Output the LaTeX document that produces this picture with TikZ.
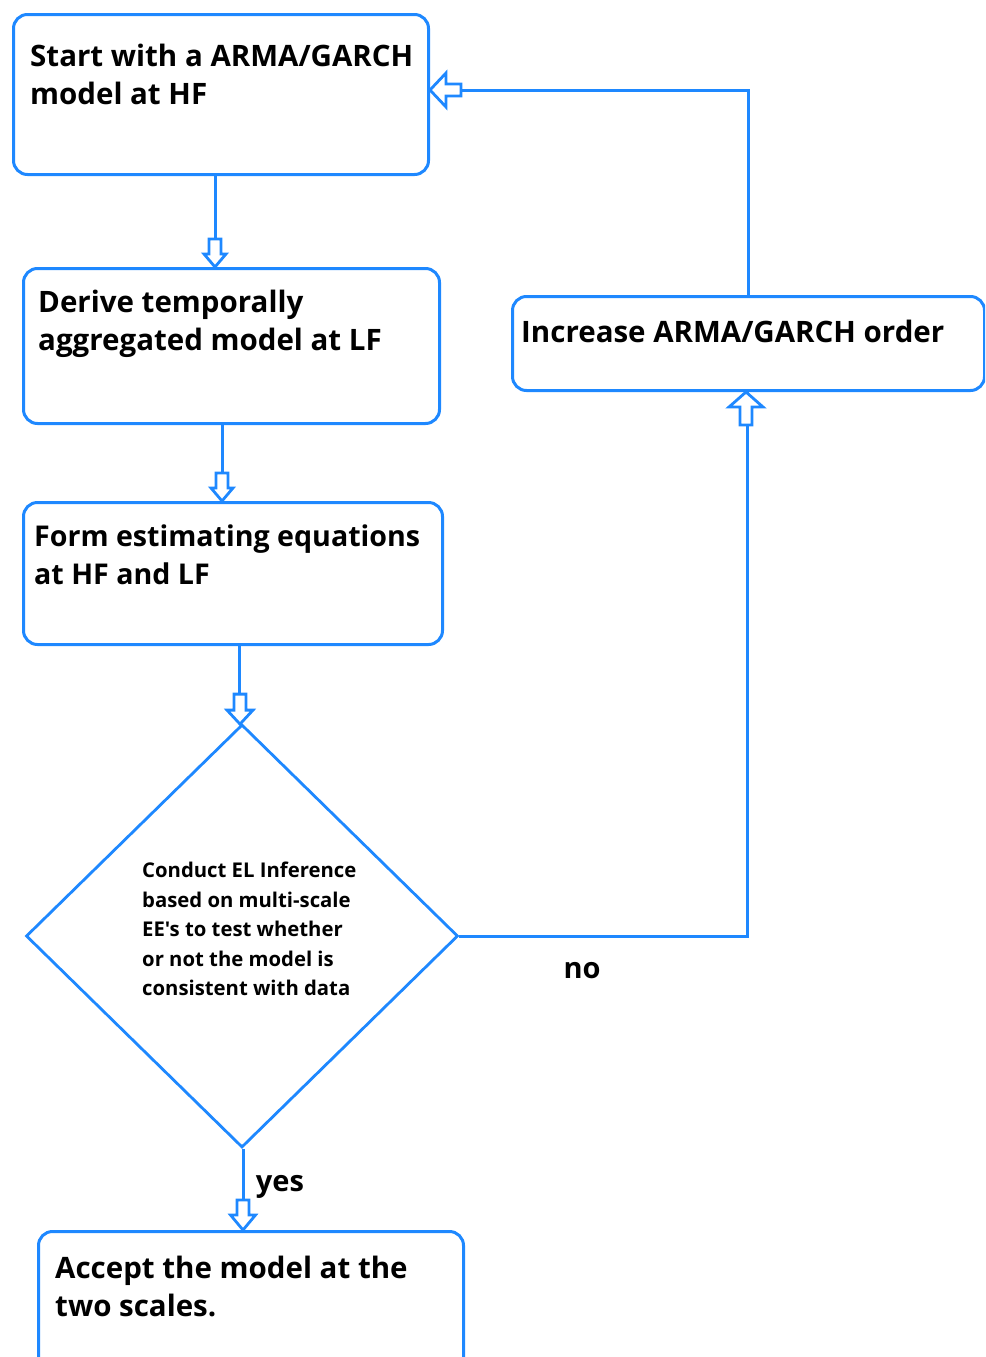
\documentclass[tikz,border=0pt]{standalone}
\usepackage{fontspec}
\newfontfamily\osf{Open Sans}
\usetikzlibrary{shapes.geometric}
\definecolor{fblue}{RGB}{30,136,255}
\tikzset{
  box/.style={draw=fblue, line width=3pt, rounded corners=14pt, inner sep=0pt, anchor=north west},
  btext/.style={anchor=north west, inner sep=0pt, align=left, font=\osf\fontsize{29.5}{38}\selectfont\bfseries},
  dtext/.style={anchor=north west, inner sep=0pt, align=left, font=\osf\fontsize{20.3}{29.5}\selectfont\bfseries},
  lbl/.style={inner sep=0pt, font=\osf\fontsize{29}{32}\selectfont\bfseries},
  conn/.style={draw=fblue, line width=3pt},
  arrowhead/.style={draw=fblue, fill=white, line width=2.8pt, line join=miter},
  pics/barrow/.style n args={3}{code={
    \draw[arrowhead] (0,0) -- (-#2,#1) -- (-#2,6) -- (-#3,6) -- (-#3,-6) -- (-#2,-6) -- (-#2,-#1) -- cycle;}},
}
\begin{document}
\begin{tikzpicture}[x=1pt,y=-1pt]
\useasboundingbox (0,0) rectangle (985,1357);
\clip (0,0) rectangle (985,1357);
% boxes
\node[box, minimum width=415pt, minimum height=160pt] (b1) at (12,13) {};
\node[box, minimum width=416pt, minimum height=155pt] (b2) at (22,267) {};
\node[box, minimum width=419pt, minimum height=142pt] (b3) at (22,501) {};
\node[box, minimum width=472pt, minimum height=94pt] (b4) at (511,295) {};
\node[box, minimum width=425pt, minimum height=150pt] (b5) at (37,1230) {};
\node[diamond, draw=fblue, line width=2.8pt, minimum width=432pt, minimum height=423pt, inner sep=0pt] (dm) at (242,936) {};
% texts
\node[btext] (t1) at (30,44) {Start with a ARMA/GARCH\\model at HF};
\node[btext] (t2) at (38,290) {Derive temporally\\aggregated model at LF};
\node[btext, font=\osf\fontsize{28.6}{38}\selectfont\bfseries] (t3) at (34,525) {Form estimating equations\\at HF and LF};
\node[btext] (t4) at (521,320) {Increase ARMA/GARCH order};
\node[btext] (t5) at (55,1256) {Accept the model at the\\two scales.};
\node[dtext] (td) at (142,862) {Conduct EL Inference\\based on multi-scale\\EE's to test whether\\or not the model is\\consistent with data};
\node[lbl] (no) at (582,971) {no};
\node[lbl] (yes) at (280,1187) {yes};
% connectors
\draw[conn] (b1.south -| 215,0) -- (b2.north -| 215,0);
\draw[conn] (b2.south -| 222,0) -- (b3.north -| 222,0);
\draw[conn] (b3.south -| 239,0) -- (dm.north -| 239,0);
\draw[conn] (dm.south -| 243,0) -- (b5.north -| 243,0);
\draw[conn] (dm.east) -- (dm.east -| 747,0) -- (b4.south -| 747,0);
\draw[conn] (b4.north -| 748,0) -- (748,90) -- (b1.east |- 0,90);
% arrow heads
\pic[rotate=-90] (h1) at (b2.north -| 215,0) {barrow={11}{13}{28}};
\pic[rotate=-90] (h2) at (b3.north -| 222,0) {barrow={11}{13}{28}};
\pic[rotate=-90] (h3) at ([yshift=-1pt]dm.north -| 240,0) {barrow={13}{14}{30}};
\pic[rotate=-90] (h4) at (b5.north -| 243,0) {barrow={12.5}{15}{30}};
\pic[rotate=90] (h5) at (b4.south -| 746,0) {barrow={17}{15}{33}};
\pic[rotate=180] (h6) at (b1.east |- 0,90) {barrow={17}{16}{31}};
\end{tikzpicture}
\end{document}
